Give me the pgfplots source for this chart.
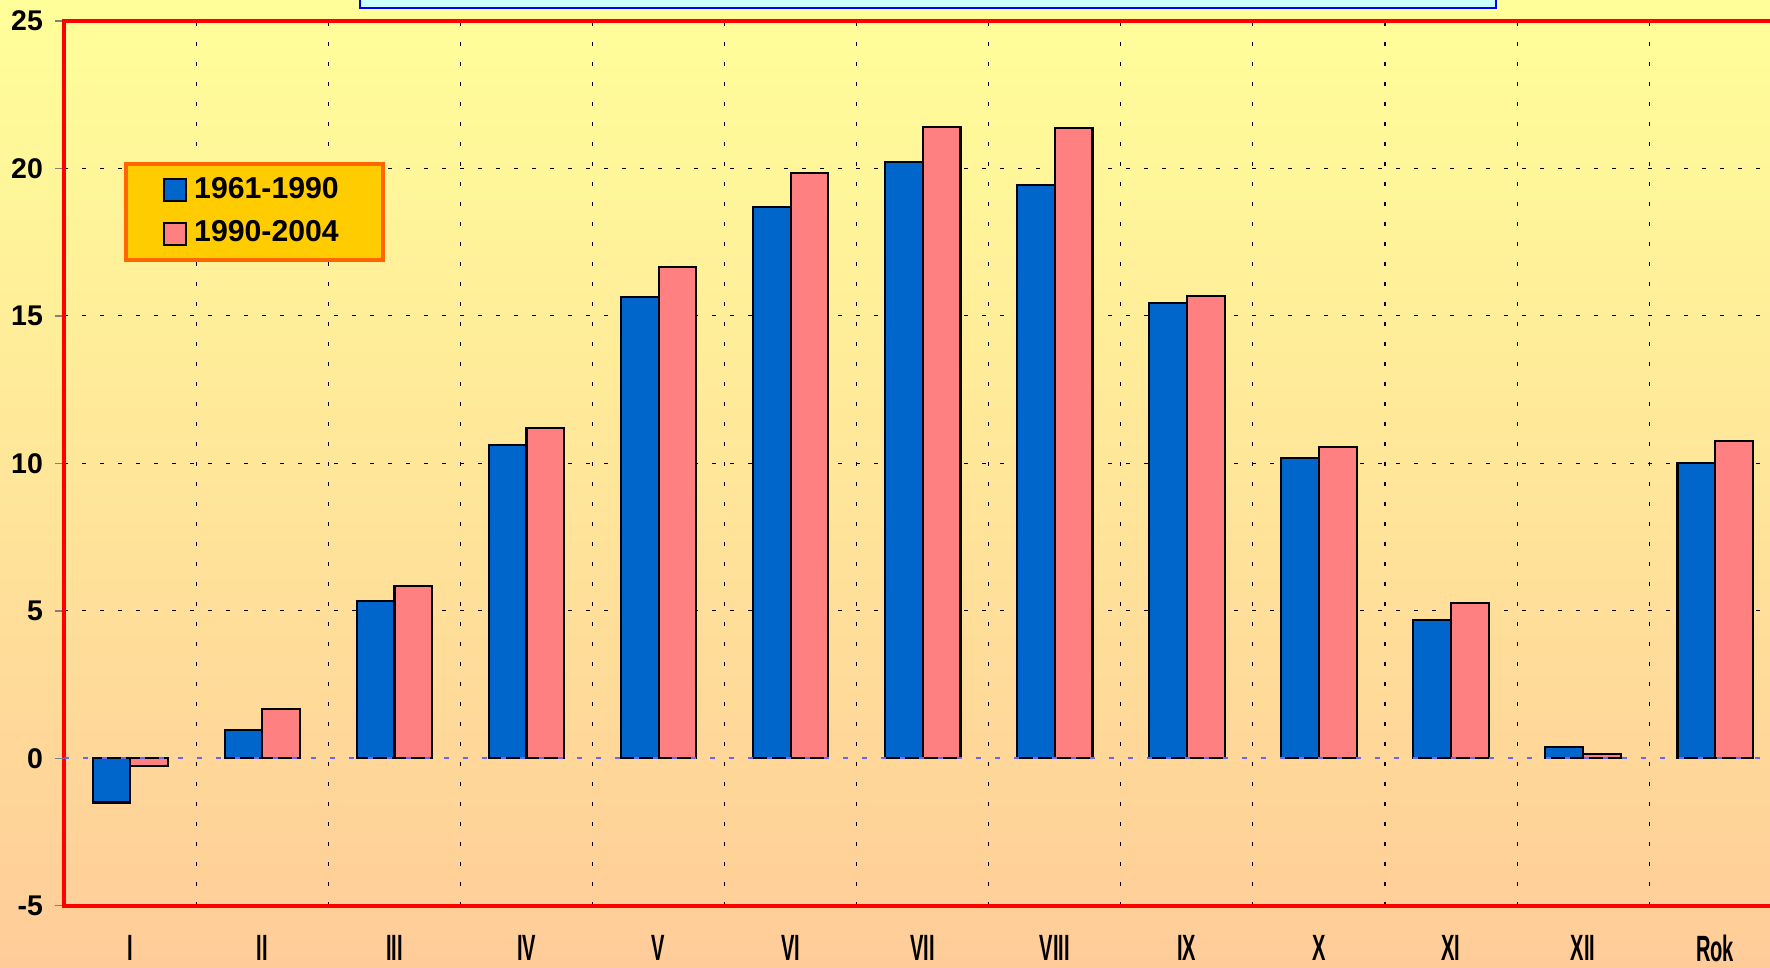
\documentclass[border=0pt]{standalone}
\usepackage{fontspec}
\setmainfont{Liberation Sans}
\usepackage{graphicx}
\usepackage{pgfplots}
\pgfplotsset{compat=1.18}
\definecolor{serA}{RGB}{0,102,204}
\definecolor{serB}{RGB}{255,128,128}
\definecolor{bgTop}{RGB}{255,255,153}
\definecolor{bgBot}{RGB}{255,204,153}
\definecolor{legFill}{RGB}{255,204,0}
\definecolor{legDraw}{RGB}{255,102,0}
\definecolor{zeroLine}{RGB}{102,102,255}
\definecolor{boxFill}{RGB}{204,255,255}
\newcommand\sq[1]{\scalebox{0.55}[1]{#1}}
\pgfplotsset{
  sqlegend/.style={legend image code/.code={\draw[##1] (0mm,-1.1mm) rectangle (2.2mm,1.1mm);}}
}
\begin{document}
\begin{tikzpicture}
\shade[top color=bgTop, bottom color=bgBot] (0,0) rectangle (177mm,96.7mm);
\draw[blue, line width=0.6pt, fill=boxFill] (36.0mm,95.9mm) rectangle (149.6mm,100mm);
\begin{axis}[
  at={(6.43mm,6.13mm)}, anchor=south west,
  scale only axis, width=171.69mm, height=88.47mm,
  xmin=-0.5, xmax=12.5, ymin=-5, ymax=25,
  ybar=0pt, bar width=3.77mm,
  axis line style={red, line width=1.15pt},
  ytick={-5,5,10,15,20,25},
  extra y ticks={0},
  extra y tick style={major grid style={draw=none}},
  ymajorgrids,
  major y grid style={black, line width=0.3pt, dash pattern=on 0.4mm off 1.4mm},
  ytick pos=left,
  tick align=outside,
  major tick length=0.9mm,
  y tick style={gray, line width=0.4pt},
  yticklabel style={font=\fontsize{8.1}{9}\selectfont\bfseries, /pgf/number format/assume math mode=true},
  xtick={0,...,12},
  xticklabels={\sq{I},\sq{II},\sq{III},\sq{IV},\sq{V},\sq{VI},\sq{VII},\sq{VIII},\sq{IX},\sq{X},\sq{XI},\sq{XII},\sq{Rok}},
  x tick style={draw=none},
  xticklabel style={font=\fontsize{10.4}{12}\selectfont\bfseries, anchor=north, inner sep=0pt, yshift=-2.0mm},
  minor xtick={0.5,1.5,...,11.5},
  xminorgrids,
  minor x grid style={black, line width=0.3pt, dash pattern=on 0.4mm off 1.6mm},
  legend style={at={(0.0348,0.8406)}, anchor=north west, fill=legFill, draw=legDraw,
    line width=1.15pt, font=\fontsize{8.6}{10}\selectfont\bfseries,
    inner xsep=3.7mm, inner ysep=0.6mm, row sep=0.3mm},
  legend cell align=left,
]
\addplot[fill=serA, draw=black, line width=0.6pt, sqlegend] coordinates {
  (0,-1.5) (1,0.96) (2,5.33) (3,10.62) (4,15.63) (5,18.69) (6,20.22)
  (7,19.45) (8,15.43) (9,10.19) (10,4.68) (11,0.38) (12,10.0)};
\addplot[fill=serB, draw=black, line width=0.6pt, sqlegend] coordinates {
  (0,-0.25) (1,1.66) (2,5.83) (3,11.19) (4,16.66) (5,19.84) (6,21.40)
  (7,21.37) (8,15.66) (9,10.54) (10,5.25) (11,0.15) (12,10.77)};
\legend{1961-1990,1990-2004}
\draw[zeroLine, line width=0.6pt, dash pattern=on 0.5mm off 1.4mm] (axis cs:-0.5,0) -- (axis cs:12.5,0);
\end{axis}
\pgfresetboundingbox
\useasboundingbox (0,0) rectangle (177mm,96.7mm);
\end{tikzpicture}
\end{document}
